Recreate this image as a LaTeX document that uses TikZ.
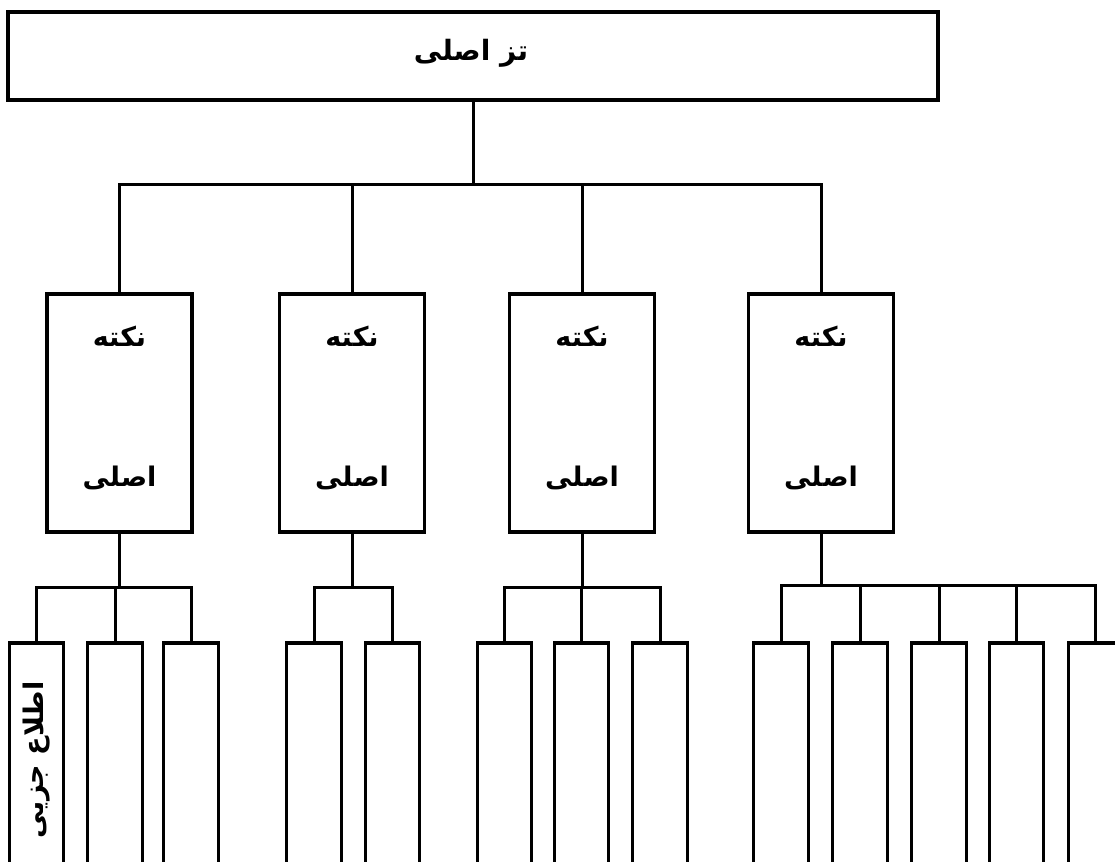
\documentclass[tikz,border=0pt]{standalone}
\usepackage{fontspec}
\TeXXeTstate=1
\newfontfamily\arabicfont[Script=Arabic]{DejaVu Sans}
\newcommand{\ar}[1]{\arabicfont\bfseries\beginR #1\endR}
\begin{document}
\begin{tikzpicture}[x=1pt,y=-1pt,
  box/.style={draw=black, line width=3.4pt, inner sep=0pt, fill=white},
  mainbox/.style={box, minimum width=145pt, minimum height=238pt},
  leaf/.style={box, minimum width=54.5pt, minimum height=257pt},
  conn/.style={line width=3pt, line cap=rect},
  lbl/.style={inner sep=0pt, font=\fontsize{27}{30}\selectfont}
]
\useasboundingbox (0,0) rectangle (1115,861);
\clip (0,0) rectangle (1115,861);
\fill[white] (0,0) rectangle (1115,861);

% top box
\node[box, minimum width=930pt, minimum height=88pt] (thesis) at (473,56) {};
\node[inner sep=0pt, font=\fontsize{28}{32}\selectfont] (tt) at (471,53) {\ar{تز اصلی}};

% main points
\foreach \n/\x in {p1/119.5, p2/352, p3/582, p4/821} {
  \node[mainbox] (\n) at (\x,413) {};
  \node[lbl] (\n a) at (\x,336) {\ar{نکته}};
  \node[lbl] (\n b) at (\x,478) {\ar{اصلی}};
}

% leaves
\foreach \n/\x in {la/36.5, lb/115, lc/191, ld/314, le/392.5, lf/504.5, lg/581.5, lh/660, li/781, lj/860, lk/939, ll/1016.5, lm/1095.5} {
  \node[leaf] (\n) at (\x,771.5) {};
}
\node[inner sep=0pt, rotate=90, font=\fontsize{27}{30}\selectfont] (lat) at (37,760) {\ar{اطلاع جزیی}};

% connectors level 1
\coordinate (bus0) at (473,184);
\draw[conn] (thesis.south) -- (bus0);
\draw[conn] (p1.north) |- (bus0) -| (p4.north);
\draw[conn] (p2.north) -- (p2.north |- bus0);
\draw[conn] (p3.north) -- (p3.north |- bus0);

% group 1
\coordinate (bus1) at (119.5,587);
\draw[conn] (p1.south) -- (bus1);
\draw[conn] (la.north) |- (bus1) -| (lc.north);
\draw[conn] (lb.north) -- (lb.north |- bus1);

% group 2
\coordinate (bus2) at (352,587);
\draw[conn] (p2.south) -- (bus2);
\draw[conn] (ld.north) |- (bus2) -| (le.north);

% group 3
\coordinate (bus3) at (582,587);
\draw[conn] (p3.south) -- (bus3);
\draw[conn] (lf.north) |- (bus3) -| (lh.north);
\draw[conn] (lg.north) -- (lg.north |- bus3);

% group 4
\coordinate (bus4) at (821,585);
\draw[conn] (p4.south) -- (bus4);
\draw[conn] (li.north) |- (bus4) -| (lm.north);
\draw[conn] (lj.north) -- (lj.north |- bus4);
\draw[conn] (lk.north) -- (lk.north |- bus4);
\draw[conn] (ll.north) -- (ll.north |- bus4);
\end{tikzpicture}
\end{document}
